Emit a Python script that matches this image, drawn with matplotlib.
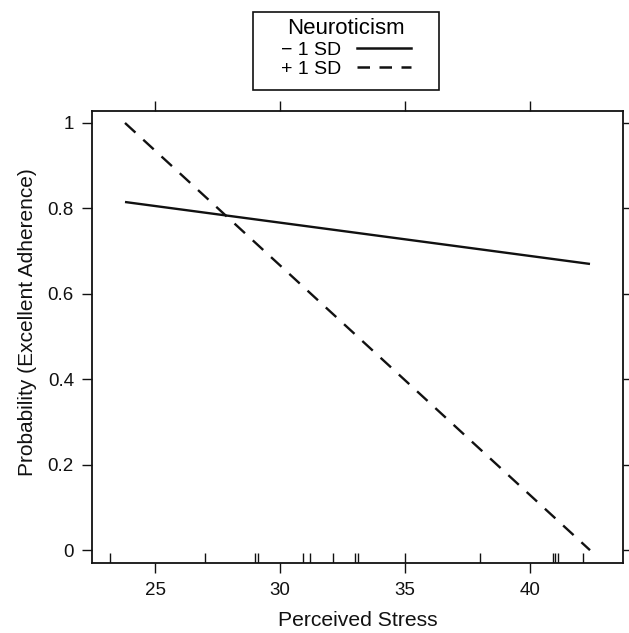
import matplotlib
matplotlib.use("Agg")
import matplotlib.pyplot as plt
import matplotlib.transforms as mtransforms
from matplotlib.lines import Line2D
from matplotlib.patches import Rectangle

plt.rcParams['font.family'] = ['Liberation Sans', 'DejaVu Sans']

# Data
stress_range = [23.8, 42.4]
low_neuro = [0.815, 0.670]    # -1 SD
high_neuro = [1.0, 0.0]       # +1 SD
rug_x = [23.2, 27.0, 29.0, 29.1, 30.9, 31.2, 32.1, 33.0, 33.1, 35.0,
         38.0, 40.9, 41.0, 41.1, 42.1]
x_ticks = [25, 30, 35, 40]
y_ticks = [0, 0.2, 0.4, 0.6, 0.8, 1]
y_ticklabels = ['0', '0.2', '0.4', '0.6', '0.8', '1']
legend_title = 'Neuroticism'
legend_labels = ['\u2212 1 SD', '+ 1 SD']

W, H = 629, 633
fig = plt.figure(figsize=(W/100, H/100), dpi=100)
ax = fig.add_axes([92/W, 70/H, 531/W, 452/H])

l1, = ax.plot(stress_range, low_neuro, color='#111111', lw=1.7, solid_capstyle='butt')
l2, = ax.plot(stress_range, high_neuro, color='#111111', lw=1.7, linestyle=(0, (6, 4.5)))

trans = mtransforms.blended_transform_factory(ax.transData, ax.transAxes)
ax.vlines(rug_x, 0, 0.022, transform=trans, color='#111111', lw=1.0)

ax.set_xlim(22.48, 43.72)
ax.set_ylim(-0.03, 1.028)
ax.set_xticks(x_ticks)
ax.set_yticks(y_ticks)
ax.set_yticklabels(y_ticklabels)
ax.tick_params(direction='out', length=7, width=1.0, labelsize=13.5,
               top=True, right=True, labeltop=False, labelright=False, colors='#111111')
ax.tick_params(axis='x', pad=6.5)
ax.tick_params(axis='y', pad=6)
for s in ax.spines.values():
    s.set_linewidth(1.3)
    s.set_color('#111111')

ax.set_xlabel('Perceived Stress', fontsize=15.2, color='#111111', labelpad=9)
ax.set_ylabel('Probability (Excellent Adherence)', fontsize=15, color='#111111')
ax.yaxis.set_label_coords((37 - 92) / 531, (H - 322 - 70) / 452)

# Legend (key) above the panel, frame drawn explicitly
h1 = Line2D([], [], color='#111111', lw=1.8)
h2 = Line2D([], [], color='#111111', lw=1.8, linestyle=(0, (5.0, 3.8)))
leg = fig.legend([h1, h2], legend_labels, title=legend_title,
                 loc='upper center', bbox_to_anchor=(346/W, 1 - 12/H),
                 markerfirst=False, frameon=False, fontsize=14,
                 title_fontsize=16, handlelength=2.8, borderpad=0.3,
                 labelspacing=0.05, handletextpad=0.8, borderaxespad=0)
leg._legend_box.sep = 2
fig.patches.append(Rectangle((253/W, 1 - 90/H), (439 - 253)/W, (90 - 12)/H,
                             transform=fig.transFigure, fill=False,
                             edgecolor='#111111', linewidth=1.2))

fig.savefig('out.png', dpi=100)
